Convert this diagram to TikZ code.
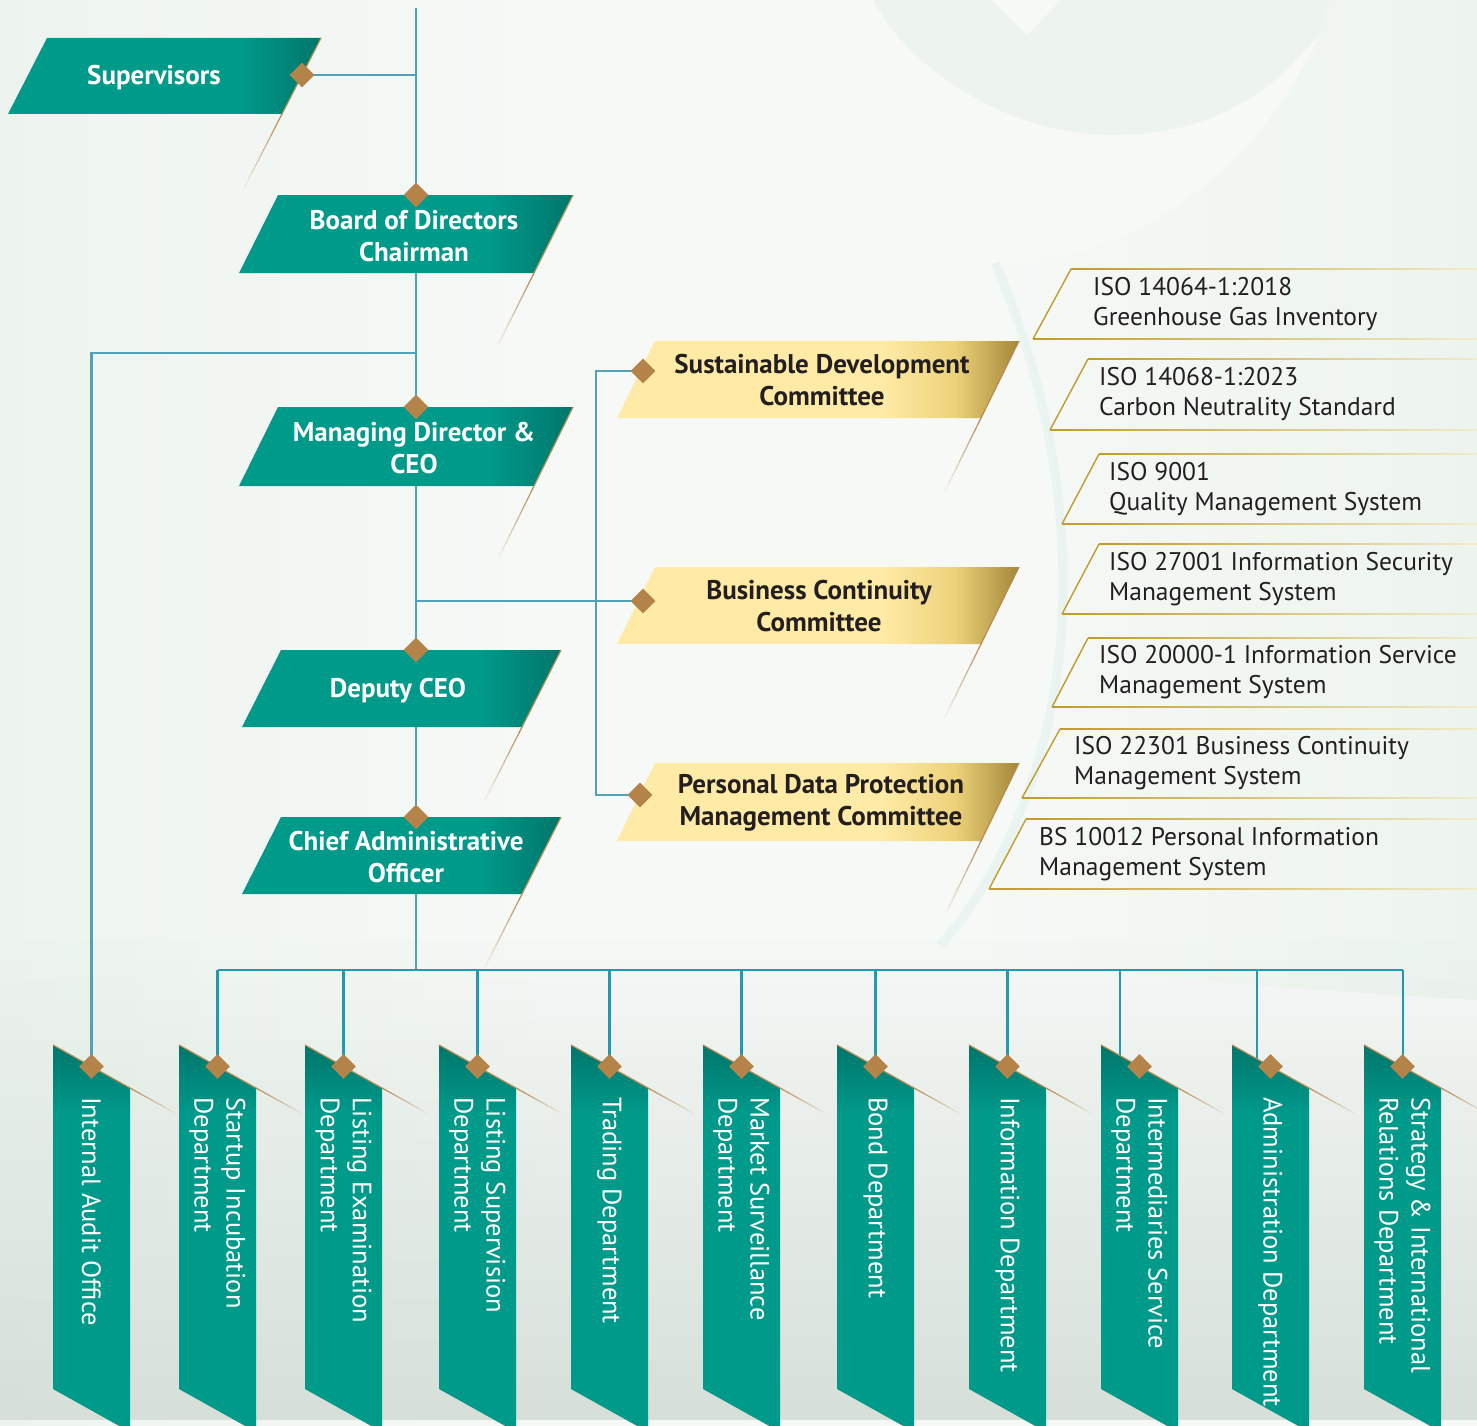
\documentclass[tikz,border=0pt]{standalone}
\usepackage{fontspec}
\setmainfont{PT Sans}
\usetikzlibrary{shapes.geometric,calc}
\definecolor{teal1}{HTML}{009A8B}
\definecolor{teal2}{HTML}{00766B}
\definecolor{yel1}{HTML}{FFEBA6}
\definecolor{yel3}{HTML}{EDD27A}
\definecolor{yel2}{HTML}{A3873A}
\definecolor{linec}{HTML}{4FA2B8}
\definecolor{busc}{HTML}{1F9AB1}
\definecolor{diac}{HTML}{B3834A}
\definecolor{tailc}{HTML}{B98A52}
\definecolor{isog}{HTML}{C29B2C}
\definecolor{isopale}{HTML}{F1ECCB}
\definecolor{isomid}{HTML}{EADB98}
\definecolor{txtc}{HTML}{231F20}
\definecolor{basec}{HTML}{F7F9F7}
\definecolor{greenc}{HTML}{EDF4EE}
\definecolor{mist}{HTML}{D6E0D9}
\definecolor{aquae}{HTML}{E0F1EE}
\pgfdeclarehorizontalshading{tealh}{100bp}{color(0bp)=(teal1); color(62bp)=(teal1); color(75bp)=(teal2); color(100bp)=(teal2)}
\pgfdeclarehorizontalshading{yelh}{100bp}{color(0bp)=(yel1); color(58bp)=(yel1); color(67bp)=(yel3); color(75bp)=(yel2); color(100bp)=(yel2)}
\pgfdeclareverticalshading{tealv}{100bp}{color(0bp)=(teal1); color(66bp)=(teal1); color(75bp)=(teal2); color(100bp)=(teal2)}
\pgfdeclarehorizontalshading{lefth}{100bp}{color(0bp)=(greenc); color(25bp)=(greenc); color(75bp)=(basec); color(100bp)=(basec)}
\pgfdeclarelayer{back}
\pgfdeclarelayer{mid}
\pgfsetlayers{back,mid,main}
\tikzset{
  conn/.style={draw=linec, line width=2.8pt},
  busconn/.style={draw=busc, line width=2.8pt},
  dia/.style={diamond, fill=diac, minimum size=25pt, inner sep=0pt},
  toptxt/.style={text=white, font=\fontsize{27}{32}\selectfont\bfseries, align=center, inner sep=0pt},
  yeltxt/.style={text=txtc, font=\fontsize{27}{32}\selectfont\bfseries, align=center, inner sep=0pt},
  deptxt/.style={text=white, font=\fontsize{26.5}{32}\selectfont, align=left, inner sep=0pt, rotate=-90, anchor=west},
  isotxt/.style={text=txtc, font=\fontsize{25.5}{30}\selectfont, align=left, inner sep=0pt, anchor=west},
  tailline/.style={draw=tailc, line width=1.2pt},
}
% fading tail from #1 to #2
\newcommand\fadetail[2]{%
  \foreach \k [evaluate=\k as \op using {1-\k/10}, evaluate=\k as \ta using {\k/10}, evaluate=\k as \tb using {(\k+1)/10}] in {0,...,9}{%
    \draw[tailline, draw opacity=\op] ($(#1)!\ta!(#2)$) -- ($(#1)!\tb!(#2)$);}}
% name, xl, yt, w, h, s, text, textx
\newcommand\tealbox[8]{%
  \shade[shading=tealh] (#2,#3) -- ++(#4,0) -- ++(-#6,#5) -- ++(-#4,0) -- cycle;
  \coordinate (#1-tr) at ({#2+#4},#3);
  \coordinate (#1-br) at ({#2+#4-#6},{#3+#5});
  \coordinate (#1-te) at ({#2+#4-#6*150/#5},{#3+150});
  \draw[tailline] (#1-tr) -- (#1-br);
  \fadetail{#1-br}{#1-te}
  \node[toptxt] (#1) at (#8,{#3+#5/2+2}) {#7};}
\newcommand\yelbox[8]{%
  \shade[shading=yelh] (#2,#3) -- ++(#4,0) -- ++(-#6,#5) -- ++(-#4,0) -- cycle;
  \coordinate (#1-tr) at ({#2+#4},#3);
  \coordinate (#1-br) at ({#2+#4-#6},{#3+#5});
  \coordinate (#1-te) at ({#2+#4-#6*150/#5},{#3+150});
  \draw[tailline] (#1-tr) -- (#1-br);
  \fadetail{#1-br}{#1-te}
  \node[yeltxt] (#1) at (#8,{#3+#5/2+1}) {#7};}
% name, left x, text, drop x
\newcommand\dept[4]{%
  \shade[shading=tealv] (#2,1045) -- ({#2+77},1088) -- ({#2+77},1432) -- (#2,1389) -- cycle;
  \coordinate (#1-tl) at (#2,1045);
  \coordinate (#1-tr) at ({#2+77},1088);
  \coordinate (#1-te) at ({#2+122},1113);
  \draw[tailline] (#1-tl) -- (#1-tr);
  \fadetail{#1-tr}{#1-te}
  \node[deptxt] (#1) at ({#2+38.5},1097) {#3};
  \node[dia] (#1-d) at ({#2+38.5},1066.5) {};
  \coordinate (#1-top) at (#4,{1045+(#4-#2)*0.5584});}
% name, yt, xtl, yb, xbl, textx, text
\newcommand\isobox[7]{%
  \shade[left color=isog, middle color=isomid, right color=isopale] (#3,{#2-0.7}) rectangle (1477,{#2+0.7});
  \shade[left color=isog, middle color=isog!70!isopale, right color=isopale] (#5,{#4-0.8}) rectangle (1477,{#4+0.8});
  \draw[draw=isog, line width=1.4pt] (#3,#2) -- (#5,#4);
  \node[isotxt] (#1) at (#6,{(#2+#4)/2}) {#7};}
\begin{document}
\begin{tikzpicture}[x=1pt,y=-1pt]
\useasboundingbox (0,0) rectangle (1477,1426);
\begin{pgfonlayer}{back}
  % base with a soft green band on the left
  \fill[basec] (0,0) rectangle (1477,1426);
  \shade[shading=lefth] (0,0) rectangle (560,1426);
  % greenish inner circle at the top
  \fill[greenc] (873,0) .. controls (910,70) and (1010,135) .. (1111,135)
     .. controls (1190,135) and (1260,110) .. (1320,33) -- (1330,0) -- cycle;
  \fill[basec] (992,0) -- (1061,0) -- (1027,35) -- cycle;
  % greenish region behind the standards
  \shade[left color=basec, right color=greenc] (1320,33) .. controls (1270,150) and (1150,263) .. (995,263)
     .. controls (1045,380) and (1068,500) .. (1062,620)
     .. controls (1055,760) and (1000,880) .. (940,945)
     .. controls (1100,975) and (1300,990) .. (1477,1000) -- (1477,0) -- (1330,0) -- cycle;
  \draw[draw=aquae, line width=9pt, opacity=0.55] (995,263) .. controls (1045,380) and (1068,500) .. (1062,620)
     .. controls (1055,760) and (1000,880) .. (940,945);
  % misty bottom
  \foreach \i [evaluate=\i as \op using {(\i+1)/24}] in {0,...,23}{
    \fill[mist, opacity=\op] (0,{940+\i*20}) rectangle (1477,{940+(\i+1)*20});}
\end{pgfonlayer}

% top column of boxes
\tealbox{sup}{47}{38}{274}{76}{39}{Supervisors}{154}
\tealbox{board}{278}{195}{295}{78}{39}{Board of Directors\\Chairman}{414}
\tealbox{md}{278}{407}{295}{79}{39}{Managing Director \&\\CEO}{414}
\tealbox{dep}{281}{650}{280}{77}{39}{Deputy CEO}{398}
\tealbox{cao}{281}{817}{280}{77}{39}{Chief Administrative\\Officer}{406}

\node[dia] (sup-d) at (302,75) {};
\node[dia] (board-d) at (416,195) {};
\node[dia] (md-d) at (416,407) {};
\node[dia] (dep-d) at (416,650) {};
\node[dia] (cao-d) at (416,817) {};

% committees
\yelbox{sdc}{655}{341}{364}{77}{38}{Sustainable Development\\Committee}{822}
\yelbox{bcc}{655}{567}{364}{77}{38}{Business Continuity\\Committee}{819}
\yelbox{pdp}{655}{763}{364}{78}{38}{Personal Data Protection\\Management Committee}{821}
\node[dia] (sdc-d) at (643,371) {};
\node[dia] (bcc-d) at (643,601) {};
\node[dia] (pdp-d) at (640,795) {};

% ISO standards
\isobox{iso1}{269}{1071}{339}{1033}{1093}{ISO 14064-1:2018\\Greenhouse Gas Inventory}
\isobox{iso2}{359}{1088}{430}{1050}{1099}{ISO 14068-1:2023\\Carbon Neutrality Standard}
\isobox{iso3}{454}{1099}{524}{1062}{1109}{ISO 9001\\Quality Management System}
\isobox{iso4}{544}{1099}{614}{1062}{1109}{ISO 27001 Information Security\\Management System}
\isobox{iso5}{638}{1088}{707}{1052}{1099}{ISO 20000-1 Information Service\\Management System}
\isobox{iso6}{729}{1060}{798}{1022}{1074}{ISO 22301 Business Continuity\\Management System}
\isobox{iso7}{819}{1026}{889}{989}{1039}{BS 10012 Personal Information\\Management System}

% departments
\dept{aud}{53}{Internal Audit Office}{91.5}
\dept{sui}{179}{Startup Incubation\\Department}{217.5}
\dept{led}{305}{Listing Examination\\Department}{343.5}
\dept{lsd}{439}{Listing Supervision\\Department}{477.5}
\dept{trd}{571}{Trading Department}{609.5}
\dept{msd}{703}{Market Surveillance\\Department}{741.5}
\dept{bnd}{837}{Bond Department}{875.5}
\dept{ifd}{969}{Information Department}{1007.5}
\dept{isd}{1101}{Intermediaries Service\\Department}{1120}
\dept{adm}{1232}{Administration Department}{1257}
\dept{sir}{1364}{Strategy \& International\\Relations Department}{1403}

% junction coordinates
\coordinate (topc) at (416,8);
\coordinate (busj) at (416,970);
\coordinate (audj) at (416,353);
\coordinate (bccj) at (416,601);
\coordinate (cbar) at (596,601);
\coordinate (busl) at (217.5,970);
\coordinate (busr) at (1403,970);

\begin{pgfonlayer}{mid}
  \draw[conn] (topc) -- (busj);
  \draw[conn] (sup-d.center) -- (sup-d.center -| topc);
  \draw[conn] (audj) -| (aud-d.center);
  \draw[conn] (bccj) -- (bcc-d.center);
  \draw[conn] (sdc-d.center) -- (sdc-d.center -| cbar) -- (pdp-d.center -| cbar) -- (pdp-d.center);
  \draw[busconn] (busl) -- (busr);
  \foreach \d in {sui,led,lsd,trd,msd,bnd,ifd,isd,adm,sir}{
    \draw[busconn] (\d-top |- busl) -- (\d-top);}
\end{pgfonlayer}
\end{tikzpicture}
\end{document}
